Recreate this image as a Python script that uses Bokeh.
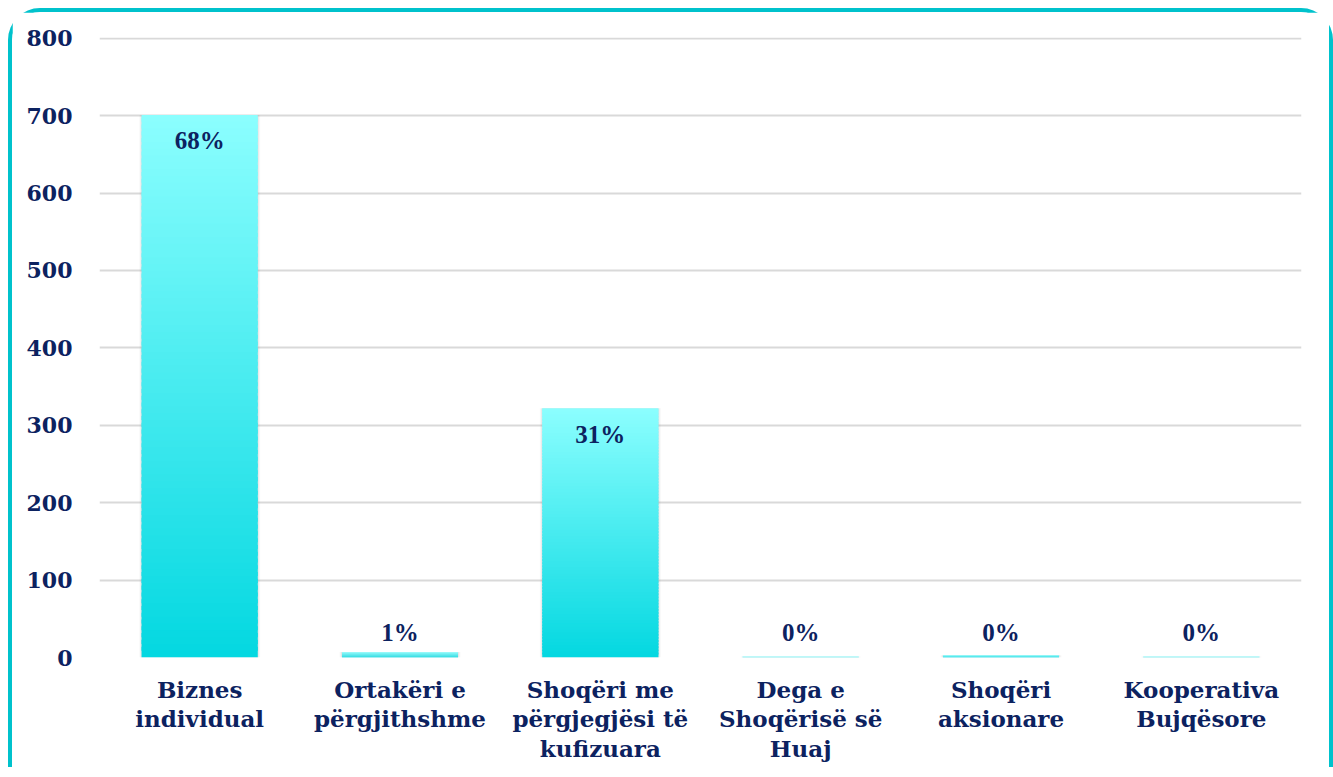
import numpy as np
from bokeh.plotting import figure
from bokeh.models import ColumnDataSource, LabelSet, FixedTicker, Range1d
from bokeh.embed import file_html
from bokeh.resources import INLINE

categories = ["Biznes\nindividual", "Ortakëri e\npërgjithshme", "Shoqëri me\npërgjegjësi të\nkufizuara",
              "Dega e\nShoqërisë së\nHuaj", "Shoqëri\naksionare", "Kooperativa\nBujqësore"]
values = [701, 7, 322, 1, 3, 1]
pct_labels = ["68%", "1%", "31%", "0%", "0%", "0%"]
y_ticks = [0, 100, 200, 300, 400, 500, 600, 700, 800]

NAVY = "#0c2260"
FONT = "DejaVu Serif"
TOP_C = np.array([0x8c, 0xff, 0xff])
BOT_C = np.array([0x04, 0xd8, 0xe1])

p = figure(x_range=categories, frame_width=1202, frame_height=620, output_backend="svg",
           toolbar_location=None, min_border_left=87, min_border_right=28,
           min_border_top=25, min_border_bottom=110)
p.styles = {"border": "4px solid #00c2cc", "border-bottom": "none",
            "border-radius": "32px 32px 0 0", "background": "white",
            "margin-left": "8px", "margin-top": "8px"}
p.y_range = Range1d(0, 801)
p.outline_line_color = None
p.background_fill_color = "white"
p.border_fill_color = "white"

# gridlines
p.xgrid.grid_line_color = None
p.ygrid.grid_line_color = "#d9d9d9"
p.ygrid.grid_line_width = 2
p.yaxis.ticker = FixedTicker(ticks=y_ticks)

for ax in (p.xaxis[0], p.yaxis[0]):
    ax.axis_line_color = None
    ax.major_tick_line_color = None
    ax.minor_tick_line_color = None
    ax.major_label_text_font = FONT
    ax.major_label_text_font_style = "bold"
    ax.major_label_text_color = NAVY
p.xaxis.major_label_text_font_size = "23px"
p.yaxis.major_label_text_font_size = "22px"
p.yaxis.major_label_standoff = 21
p.xaxis.major_label_standoff = 12
p.xaxis.major_label_text_line_height = 1.1

# shadows
W = 0.58
for dw, a in [(0.024, 0.05), (0.014, 0.07), (0.006, 0.09)]:
    p.vbar(x=categories, top=values, width=W + dw, bottom=-3, fill_color="#777777",
           fill_alpha=a, line_color=None)

# gradient bars built as stacked slices of each bar's value
N = 80
xs, bots, tops, cols = [], [], [], []
for c, v in zip(categories, values):
    for i in range(N):
        f0, f1 = i / N, (i + 1) / N
        xs.append(c)
        bots.append(v * f0)
        tops.append(min(v, v * (f1 + 0.6 / N)))
        t = (f0 + f1) / 2
        rgb = (BOT_C + (TOP_C - BOT_C) * t).astype(int)
        cols.append("#%02x%02x%02x" % tuple(rgb))
p.vbar(x=xs, bottom=bots, top=tops, width=W, fill_color=cols, line_color=None)

# labels
offs = [-26 if v > 100 else 25 for v in values]
ly = [v if v > 100 else 0 for v in values]
src = ColumnDataSource(dict(x=categories, y=ly, t=pct_labels, o=offs))
p.add_layout(LabelSet(x="x", y="y", text="t", source=src, y_offset="o",
                      text_align="center", text_baseline="middle",
                      text_font=FONT, text_font_style="bold", text_font_size="25px",
                      text_color=NAVY))

open("out.html", "w").write(file_html(p, INLINE))
